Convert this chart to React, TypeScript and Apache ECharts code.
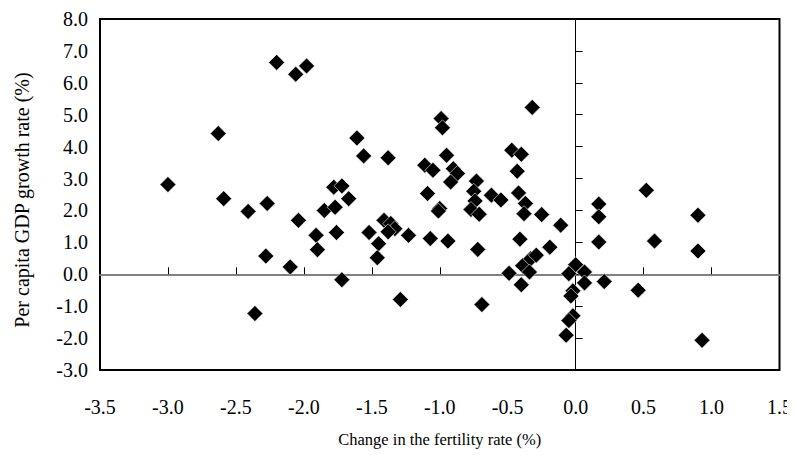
import React, { useEffect, useRef } from "react";
import * as echarts from "echarts";

const xTitle = "Change in the fertility rate (%)";
const yTitle = "Per capita GDP growth rate (%)";

const fertilityChange: number[] = [
  -3.0, -2.63, -2.59, -2.41, -2.27, -2.28, -2.36, -2.2, -2.06, -1.98,
  -2.04, -2.1, -1.91, -1.9, -1.85, -1.77, -1.78, -1.72, -1.67, -1.76,
  -1.72, -1.61, -1.56, -1.38, -1.52, -1.45, -1.46, -1.41, -1.36, -1.33,
  -1.38, -1.23, -1.29, -1.11, -1.05, -1.09, -1.07, -0.99, -0.98, -0.95,
  -0.9, -0.87, -0.92, -1.0, -1.01, -0.94, -0.73, -0.75, -0.74, -0.77,
  -0.71, -0.62, -0.55, -0.72, -0.69, -0.47, -0.4, -0.43, -0.42, -0.37,
  -0.38, -0.25, -0.32, -0.11, -0.41, -0.19, -0.49, -0.4, -0.39, -0.33,
  -0.29, -0.34, 0.0, -0.05, 0.065, 0.065, 0.21, -0.02, -0.035, -0.02,
  -0.05, -0.07, 0.17, 0.17, 0.17, 0.46, 0.52, 0.58, 0.9, 0.9, 0.93,
];

const gdpGrowth: number[] = [
  2.81, 4.41, 2.37, 1.97, 2.22, 0.57, -1.23, 6.64, 6.27, 6.53,
  1.69, 0.23, 1.22, 0.77, 2.0, 2.1, 2.73, 2.77, 2.37, 1.31,
  -0.17, 4.27, 3.71, 3.65, 1.31, 0.96, 0.52, 1.69, 1.59, 1.43,
  1.33, 1.22, -0.79, 3.42, 3.26, 2.53, 1.12, 4.88, 4.59, 3.73,
  3.31, 3.16, 2.89, 2.06, 1.98, 1.04, 2.92, 2.6, 2.3, 2.03,
  1.88, 2.48, 2.33, 0.78, -0.95, 3.89, 3.76, 3.23, 2.55, 2.22,
  1.9, 1.87, 5.23, 1.54, 1.1, 0.85, 0.03, -0.33, 0.27, 0.49,
  0.6, 0.07, 0.3, 0.02, 0.07, -0.27, -0.23, -0.52, -0.68, -1.3,
  -1.45, -1.91, 2.2, 1.8, 1.01, -0.5, 2.63, 1.04, 1.85, 0.73, -2.07,
];

const xMin = -3.5;
const xMax = 1.5;
const xStep = 0.5;
const yMin = -3;
const yMax = 8;
const yStep = 1;

export default function App() {
  const ref = useRef<HTMLDivElement>(null);
  useEffect(() => {
    if (!ref.current) return;
    const chart = echarts.init(ref.current, null, { renderer: "svg" });
    const font = "Liberation Serif";
    const data = fertilityChange.map((x, i) => [x, gdpGrowth[i]]);
    chart.setOption({
      animation: false,
      backgroundColor: "#ffffff",
      grid: {
        left: 100,
        right: 15,
        top: 19,
        bottom: 85,
        show: true,
        borderColor: "#000000",
        borderWidth: 2,
        backgroundColor: "transparent",
      },
      graphic: [
        {
          type: "text",
          x: 22,
          y: 200,
          rotation: Math.PI / 2,
          style: {
            text: yTitle,
            fontFamily: font,
            fontSize: 20,
            fill: "#000",
            align: "center",
            verticalAlign: "middle",
          },
        },
      ],
      xAxis: [
        {
          type: "value",
          min: xMin,
          max: xMax,
          interval: xStep,
          position: "bottom",
          name: xTitle,
          nameLocation: "middle",
          nameGap: 61,
          nameTextStyle: { fontFamily: font, fontSize: 16.5, color: "#000" },
          axisLine: { show: false, onZero: false },
          axisTick: { show: false },
          splitLine: { show: false },
          axisLabel: {
            fontFamily: font,
            fontSize: 20,
            color: "#000",
            margin: 27,
            formatter: (v: number) => v.toFixed(1),
          },
        },
        {
          type: "value",
          min: xMin,
          max: xMax,
          interval: xStep,
          position: "bottom",
          axisLine: {
            show: true,
            onZero: true,
            onZeroAxisIndex: 0,
            lineStyle: { color: "#808080", width: 2 },
          },
          axisTick: {
            show: true,
            inside: true,
            length: 7,
            lineStyle: { color: "#000", width: 1 },
          },
          splitLine: { show: false },
          axisLabel: { show: false },
        },
      ],
      yAxis: [
        {
          type: "value",
          min: yMin,
          max: yMax,
          interval: yStep,
          position: "left",
          axisLine: { show: false, onZero: false },
          axisTick: { show: false },
          splitLine: { show: false },
          axisLabel: {
            fontFamily: font,
            fontSize: 20,
            color: "#000",
            margin: 12,
            formatter: (v: number) => v.toFixed(1),
          },
        },
        {
          type: "value",
          min: yMin,
          max: yMax,
          interval: yStep,
          position: "left",
          axisLine: {
            show: true,
            onZero: true,
            onZeroAxisIndex: 0,
            lineStyle: { color: "#000", width: 1 },
          },
          axisTick: {
            show: true,
            inside: true,
            length: 7,
            lineStyle: { color: "#000", width: 1 },
          },
          splitLine: { show: false },
          axisLabel: { show: false },
        },
      ],
      series: [
        {
          type: "scatter",
          xAxisIndex: 0,
          yAxisIndex: 0,
          symbol: "diamond",
          symbolSize: 16,
          itemStyle: { color: "#000000", opacity: 1, borderColor: "#ffffff", borderWidth: 0.6 },
          data,
          z: 5,
        },
      ],
    });
    return () => chart.dispose();
  }, []);
  return <div ref={ref} style={{ width: 795, height: 455, marginLeft: -8, marginTop: -8 }} />;
}
